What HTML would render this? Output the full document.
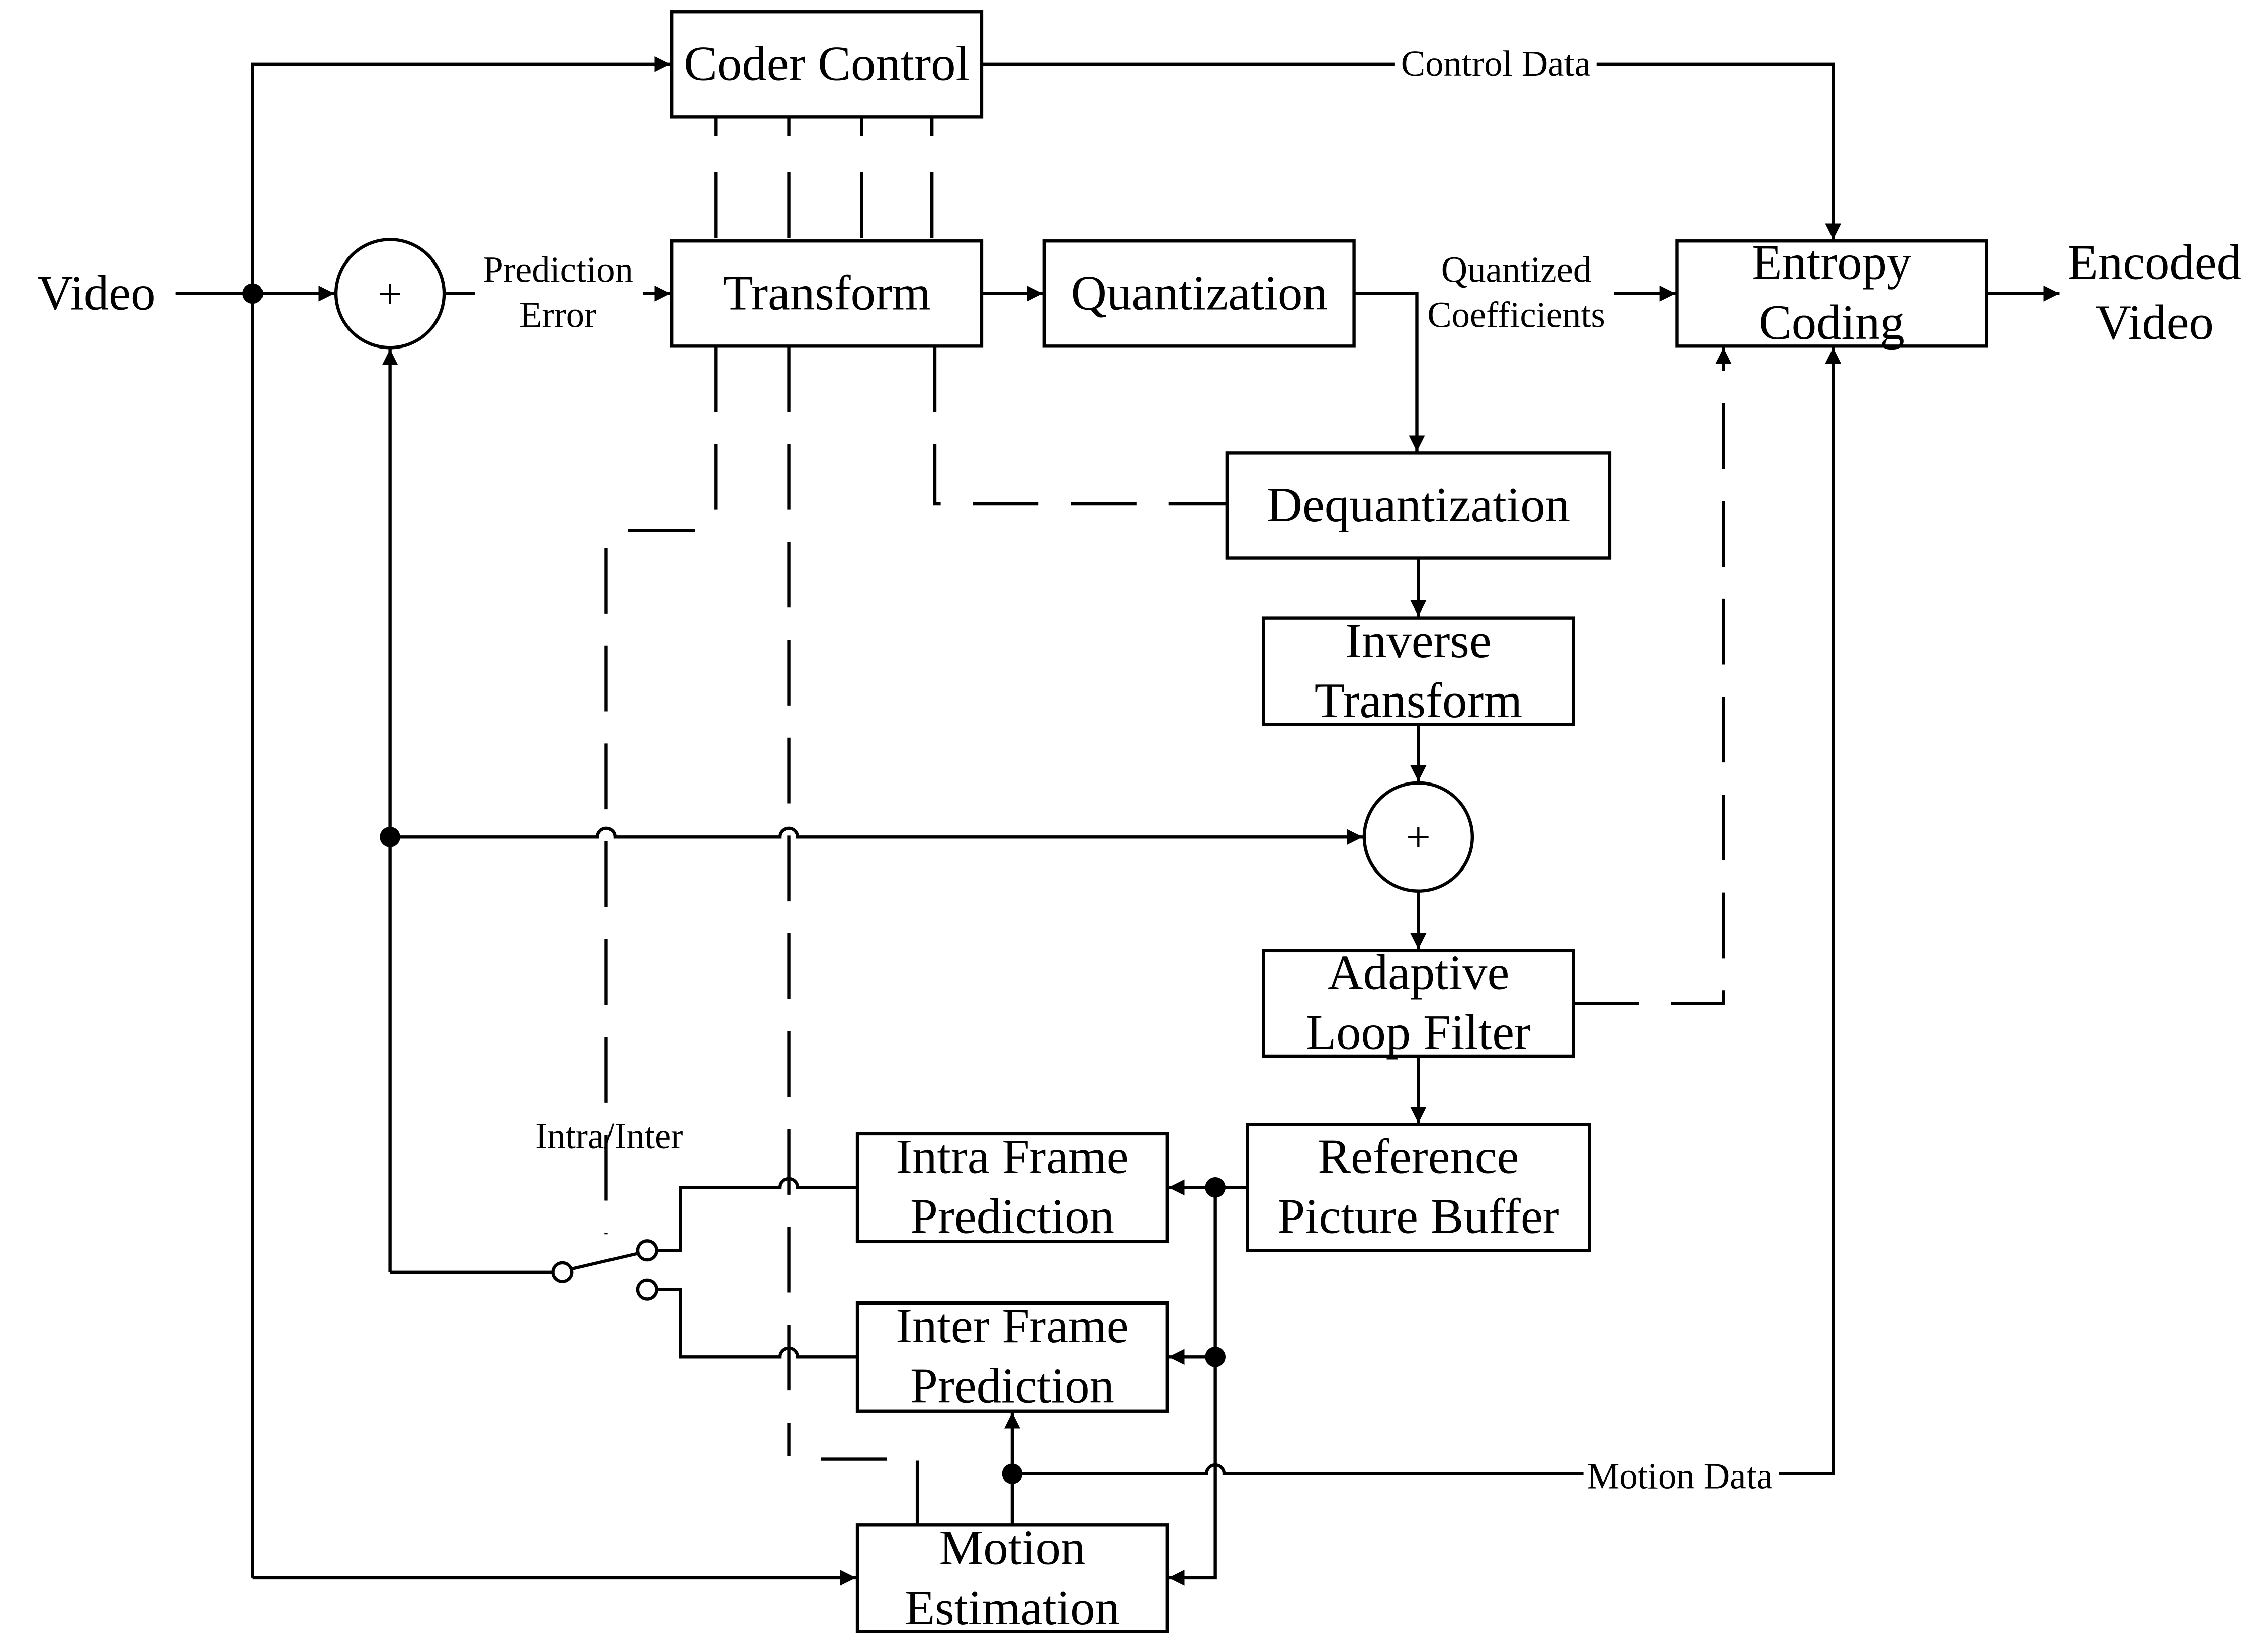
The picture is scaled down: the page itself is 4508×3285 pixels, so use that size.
<!DOCTYPE html>
<html><head><meta charset="utf-8"><style>html,body{margin:0;padding:0;background:#fff}svg{display:block}</style></head>
<body>
<svg width="4508" height="3285" viewBox="0 0 1552 1131" xmlns="http://www.w3.org/2000/svg">
<defs>
<marker id="b" viewBox="0 0 10 10" refX="10" refY="5" markerWidth="11" markerHeight="11" orient="auto" markerUnits="userSpaceOnUse"><path d="M0,0 L10,5 L0,10 z" fill="#000"/></marker>
</defs>
<rect width="1552" height="1131" fill="#fff"/>
<g fill="none" stroke="#000" stroke-width="2.2">
<rect x="460" y="8" width="212" height="72"/>
<rect x="460" y="165" width="212" height="72"/>
<rect x="715" y="165" width="212" height="72"/>
<rect x="1148" y="165" width="212" height="72"/>
<rect x="840" y="310" width="262" height="72"/>
<rect x="865" y="423" width="212" height="73"/>
<rect x="865" y="651" width="212" height="72"/>
<rect x="854" y="770" width="234" height="86"/>
<rect x="587" y="776" width="212" height="74"/>
<rect x="587" y="892" width="212" height="74"/>
<rect x="587" y="1044" width="212" height="73"/>
<circle cx="267" cy="201" r="37"/>
<circle cx="971" cy="573" r="37"/>
<path d="M120,201 H229" marker-end="url(#b)"/>
<path d="M173,1080 V44 H459" marker-end="url(#b)"/>
<path d="M173,1080 H586" marker-end="url(#b)"/>
<path d="M304,201 H325"/>
<path d="M440,201 H459" marker-end="url(#b)"/>
<path d="M672,201 H714" marker-end="url(#b)"/>
<path d="M927,201 H970 V309" marker-end="url(#b)"/>
<path d="M1105,201 H1147" marker-end="url(#b)"/>
<path d="M672,44 H1255 V164" marker-end="url(#b)"/>
<path d="M1360,201 H1410" marker-end="url(#b)"/>
<path d="M971,382 V422" marker-end="url(#b)"/>
<path d="M971,496 V535" marker-end="url(#b)"/>
<path d="M971,610 V650" marker-end="url(#b)"/>
<path d="M971,723 V769" marker-end="url(#b)"/>
<path d="M267,871 V239" marker-end="url(#b)"/>
<path d="M267,573 H409 a6,6 0 0 1 12,0 H534 a6,6 0 0 1 12,0 H933" marker-end="url(#b)"/>
<path d="M267,871 H379"/>
<path d="M390,869 L437,858"/>
<path d="M449,856 H466 V813 H534 a6,6 0 0 1 12,0 H587"/>
<path d="M449,883 H466 V929 H534 a6,6 0 0 1 12,0 H587"/>
<path d="M854,813 H800" marker-end="url(#b)"/>
<path d="M832,813 V1080 H800" marker-end="url(#b)"/>
<path d="M832,929 H800" marker-end="url(#b)"/>
<path d="M693,1044 V967" marker-end="url(#b)"/>
<path d="M693,1009 H826 a6,6 0 0 1 12,0 H1255 V238" marker-end="url(#b)"/>
<g stroke-dasharray="45,22">
<path d="M490,80 V93 M540,80 V93 M590,80 V93 M638,80 V93"/>
<path d="M490,118 V165 M540,118 V165 M590,118 V165 M638,118 V165"/>
<path d="M490,237 V352"/>
<path d="M430,363 H476" stroke-dasharray="none"/>
<path d="M415,375 V845"/>
<path d="M540,237 V997"/>
<path d="M562,999 H607" stroke-dasharray="none"/>
<path d="M628,1000 V1044" stroke-dasharray="none"/>
<path d="M640,237 V345 H840"/>
<path d="M1077,687 H1180 V238" marker-end="url(#b)"/>
</g>
</g>
<circle cx="385" cy="871" r="6.5" fill="#fff" stroke="#000" stroke-width="2.2"/>
<circle cx="443" cy="856" r="6.5" fill="#fff" stroke="#000" stroke-width="2.2"/>
<circle cx="443" cy="883" r="6.5" fill="#fff" stroke="#000" stroke-width="2.2"/>
<g fill="#000">
<circle cx="173" cy="201" r="7"/><circle cx="267" cy="573" r="7"/>
<circle cx="832" cy="813" r="7"/><circle cx="832" cy="929" r="7"/><circle cx="693" cy="1009" r="7"/>
</g>
<rect x="955" y="32" width="138" height="24" fill="#fff"/>
<rect x="1084" y="997" width="134" height="24" fill="#fff"/>
<g font-family="Liberation Serif, serif" fill="#000" text-anchor="middle">
<g font-size="34">
<text x="66" y="212">Video</text>
<text x="566" y="55">Coder Control</text>
<text x="566" y="212">Transform</text>
<text x="821" y="212">Quantization</text>
<text x="1254" y="191">Entropy</text><text x="1254" y="232">Coding</text>
<text x="1475" y="191">Encoded</text><text x="1475" y="232">Video</text>
<text x="971" y="357">Dequantization</text>
<text x="971" y="450">Inverse</text><text x="971" y="491">Transform</text>
<text x="971" y="677">Adaptive</text><text x="971" y="718">Loop Filter</text>
<text x="971" y="803">Reference</text><text x="971" y="844">Picture Buffer</text>
<text x="693" y="803">Intra Frame</text><text x="693" y="844">Prediction</text>
<text x="693" y="919">Inter Frame</text><text x="693" y="960">Prediction</text>
<text x="693" y="1071">Motion</text><text x="693" y="1112">Estimation</text>
<text x="267" y="211" font-size="30">+</text>
<text x="971" y="583" font-size="30">+</text>
</g>
<g font-size="25">
<text x="382" y="193">Prediction</text><text x="382" y="224">Error</text>
<text x="1038" y="193">Quantized</text><text x="1038" y="224">Coefficients</text>
<text x="1024" y="52">Control Data</text>
<text x="1150" y="1019">Motion Data</text>
<text x="417" y="786">Intra/Inter</text>
</g>
</g>
</svg>
</body></html>
